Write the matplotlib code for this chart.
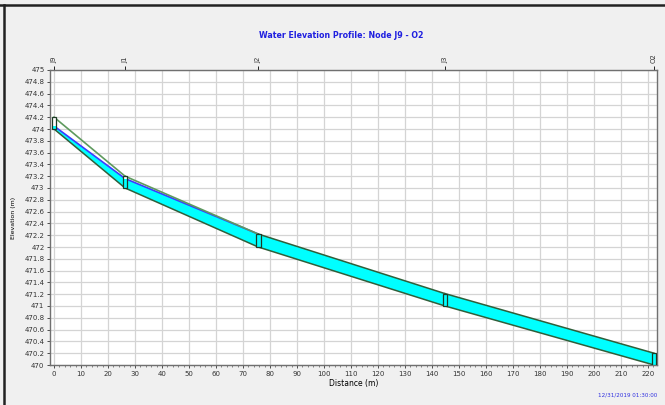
import matplotlib.pyplot as plt
from matplotlib.patches import Rectangle, Polygon
from matplotlib.lines import Line2D
from matplotlib.ticker import MultipleLocator

# profile data: nodes along the path J9 -> O2
node_names = ["J9", "J1", "J2", "J3", "O2"]
node_dist = [0, 26.3, 75.6, 144.8, 222.2]
invert = [474.0, 473.0, 472.0, 471.0, 470.0]
crown = [474.2, 473.2, 472.22, 471.21, 470.2]
water = [474.05, 473.16, 472.22, 471.21, 470.2]
x_ticks = list(range(0, 221, 10))
y_ticks = [470 + 0.2 * i for i in range(26)]

CYAN = "#00ffff"
EDGE = "#2f5f3a"
CROWN = "#5e9a5e"
WLINE = "#3c3cff"

fig = plt.figure(figsize=(6.65, 4.05), dpi=100, facecolor="#f0f0f0")
ax = fig.add_axes([50 / 665, 1 - 365 / 405, 607 / 665, 295 / 405])
ax.set_facecolor("white")

# links: water fill, crown line, invert line
for i in range(len(node_dist) - 1):
    x0, x1 = node_dist[i], node_dist[i + 1]
    ax.add_patch(Polygon([(x0, invert[i]), (x1, invert[i + 1]),
                          (x1, water[i + 1]), (x0, water[i])],
                         closed=True, facecolor=CYAN, edgecolor="none", zorder=3))
    if water[i] < crown[i] - 0.01:
        ax.plot([x0, x1], [water[i], water[i + 1]], color=WLINE, lw=1.2, zorder=4)
        ax.plot([x0, x1], [crown[i], crown[i + 1]], color=CROWN, lw=1.2, zorder=4)
    else:
        ax.plot([x0, x1], [crown[i], crown[i + 1]], color=EDGE, lw=1.1, zorder=4)
    ax.plot([x0, x1], [invert[i], invert[i + 1]], color=EDGE, lw=1.1, zorder=4)

# node boxes
bw = 1.8
for x, inv, cr, wl in zip(node_dist, invert, crown, water):
    ax.add_patch(Rectangle((x - bw / 2, inv), bw, cr - inv, facecolor="white",
                           edgecolor="none", zorder=5))
    ax.add_patch(Rectangle((x - bw / 2, inv), bw, wl - inv, facecolor=CYAN,
                           edgecolor="none", zorder=5))
    ax.add_patch(Rectangle((x - bw / 2, inv), bw, cr - inv, facecolor="none",
                           edgecolor="#1d3a25", lw=0.9, zorder=6))

ax.set_xlim(-1.5, 223.3)
ax.set_ylim(470, 475)
ax.set_xticks(x_ticks)
ax.set_xticklabels([str(v) for v in x_ticks])
ax.xaxis.set_minor_locator(MultipleLocator(2))
ax.set_yticks(y_ticks)
ax.set_yticklabels(["%g" % round(v, 1) for v in y_ticks])
ax.tick_params(labelsize=5, colors="#333333", length=2, width=0.6, pad=2)
ax.tick_params(which="minor", length=1.5, width=0.5, colors="#555555")
ax.grid(True, color="#d4d4d4", lw=0.9)
ax.set_axisbelow(True)
for s in ax.spines.values():
    s.set_color("#707070")
    s.set_linewidth(1.0)

ax.set_xlabel("Distance (m)", fontsize=5.5, labelpad=2)
ax.set_ylabel("Elevation (m)", fontsize=4.5, labelpad=6)

# node names along the top
top = ax.secondary_xaxis("top")
top.set_xticks(node_dist)
top.set_xticklabels(node_names, rotation=90, fontsize=5, color="#333333")
top.tick_params(length=3, width=0.6, pad=2)
top.spines["top"].set_visible(False)

fig.text(0.513, 1 - 35 / 405, "Water Elevation Profile: Node J9 - O2",
         ha="center", va="center", color="#1f1fe0", fontsize=5.7, fontweight="bold")
fig.text(657 / 665, 1 - 395 / 405, "12/31/2019 01:30:00", ha="right", va="center",
         color="#3030e0", fontsize=4.1)

# window frame
fig.add_artist(Line2D([0, 1], [1 - 5 / 405, 1 - 5 / 405], color="#222222", lw=1.8))
fig.add_artist(Line2D([4 / 665, 4 / 665], [0, 1 - 5 / 405], color="#222222", lw=1.8))

fig.savefig("out.png", dpi=100, facecolor=fig.get_facecolor())
